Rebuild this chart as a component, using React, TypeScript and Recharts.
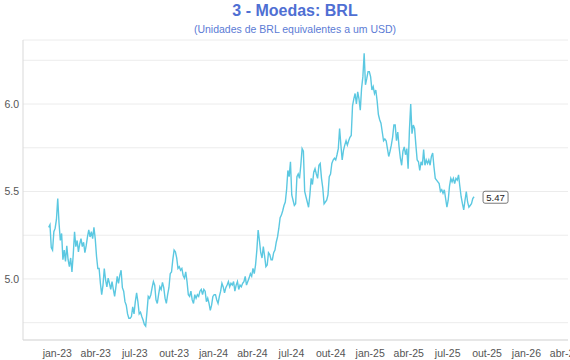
import { LineChart, Line, XAxis, YAxis, CartesianGrid, LabelList } from 'recharts';

const DIA = 86400000;

// série: BRL por USD, aprox. uma observação a cada 3 dias a partir de 12/12/2022
const inicioSerie = Date.UTC(2022, 11, 12);
const passoDias = 3.02;
const brl = [
  5.295, 5.31, 5.18, 5.165, 5.27, 5.29, 5.34, 5.46, 5.32, 5.22, 5.26, 5.11, 5.165, 5.10, 5.19, 5.11,
  5.07, 5.12, 5.04, 5.14, 5.27, 5.185, 5.22, 5.155, 5.20, 5.23, 5.185, 5.21, 5.15, 5.19, 5.24, 5.28,
  5.24, 5.27, 5.23, 5.295, 5.23, 5.13, 5.06, 5.06, 4.975, 4.91, 4.965, 5.06, 4.995, 4.955, 5.005, 4.975,
  4.94, 4.985, 4.94, 4.90, 4.955, 5.015, 4.975, 5.02, 5.05, 4.95, 4.93, 4.87, 4.85, 4.80, 4.775,
  4.775, 4.785, 4.84, 4.80, 4.87, 4.92, 4.87, 4.80, 4.81, 4.785, 4.765, 4.74, 4.73, 4.81, 4.90, 4.89,
  4.91, 4.95, 4.985, 4.965, 4.88, 4.86, 4.91, 4.955, 4.94, 4.98, 4.95, 4.89, 4.86, 4.91, 4.95, 5.03,
  5.04, 5.11, 5.165, 5.155, 5.12, 5.06, 5.07, 5.05, 5.06, 5.02, 5.005, 5.04, 4.985, 4.91, 4.90, 4.93,
  4.88, 4.86, 4.91, 4.89, 4.91, 4.90, 4.93, 4.94, 4.91, 4.94, 4.93, 4.87, 4.89, 4.86, 4.82, 4.85,
  4.90, 4.91,
  4.91, 4.88, 4.86, 4.90, 4.93, 4.975, 4.955, 4.92, 4.95, 4.965, 4.985, 4.955, 4.975, 4.965, 4.985, 4.93,
  4.965, 4.985, 4.94, 4.965, 4.955, 4.975, 4.985, 5.015, 4.965, 4.985, 5.005, 5.03, 5.015, 5.06, 5.03, 5.08,
  5.165, 5.28, 5.22, 5.15, 5.12, 5.185, 5.13, 5.07, 5.08, 5.15, 5.14, 5.11, 5.11, 5.15, 5.165, 5.21,
  5.24, 5.29, 5.35, 5.365, 5.39, 5.42, 5.44, 5.51, 5.62, 5.585, 5.67, 5.48, 5.45, 5.42, 5.43, 5.585, 5.60,
  5.575, 5.65, 5.745, 5.73, 5.50, 5.47, 5.44, 5.41, 5.48, 5.575, 5.54, 5.61, 5.63, 5.60, 5.575, 5.65,
  5.66, 5.575, 5.52, 5.43, 5.44, 5.45, 5.48, 5.585, 5.60, 5.66, 5.68, 5.69, 5.68, 5.71, 5.745, 5.86,
  5.765, 5.68, 5.735, 5.765, 5.79, 5.765, 5.79, 5.81, 5.82, 5.99, 6.03, 6.06, 6.00, 6.07, 6.03, 5.965,
  6.09, 6.155, 6.29, 6.11, 6.145, 6.185, 6.185, 6.155, 6.08, 6.10, 6.06, 6.08, 6.02, 5.94, 5.91, 5.89,
  5.84, 5.79,
  5.80, 5.79, 5.745, 5.70, 5.73, 5.765, 5.81, 5.88, 5.88, 5.79, 5.84, 5.755, 5.69, 5.65, 5.73, 5.755,
  5.71, 5.745, 5.63, 5.85, 6.00, 5.83, 5.88, 5.86, 5.765, 5.68, 5.67, 5.62, 5.67, 5.65, 5.74, 5.65,
  5.68, 5.66, 5.68, 5.65, 5.70, 5.72, 5.64, 5.575, 5.565, 5.555, 5.545, 5.50, 5.51, 5.49, 5.51, 5.46,
  5.41, 5.45, 5.53, 5.575, 5.555, 5.575, 5.545, 5.575, 5.565, 5.595, 5.53, 5.47, 5.43, 5.395, 5.45, 5.50,
  5.44, 5.41, 5.42, 5.43, 5.46, 5.47,
];

// marcas do eixo x (trimestres)
const mesesTick: [number, number][] = [
  [2023, 0], [2023, 3], [2023, 6], [2023, 9], [2024, 0], [2024, 3], [2024, 6],
  [2024, 9], [2025, 0], [2025, 3], [2025, 6], [2025, 9], [2026, 0], [2026, 3],
];
const rotulosX = [
  'jan-23', 'abr-23', 'jul-23', 'out-23', 'jan-24', 'abr-24', 'jul-24',
  'out-24', 'jan-25', 'abr-25', 'jul-25', 'out-25', 'jan-26', 'abr-26',
];
const ticksY = [4.75, 5.0, 5.25, 5.5, 5.75, 6.0, 6.25];

const dados = brl.map((v, i) => ({ t: inicioSerie + i * passoDias * DIA, v }));
const ticksX = mesesTick.map(([a, m]) => Date.UTC(a, m, 1));
const rotuloPorTick = new Map(ticksX.map((t, i) => [t, rotulosX[i]]));

const fonte = '"Liberation Sans", Arial, Helvetica, sans-serif';

const UltimoValor = (props: any) => {
  const { x, y, value, index } = props;
  if (index !== brl.length - 1) return null;
  return (
    <g>
      <rect x={x + 9} y={y - 5.5} width={25} height={12} rx={2} fill="#fff" stroke="#555" strokeWidth={0.8} />
      <text x={x + 21.5} y={y + 4} textAnchor="middle" fontSize={9.5} fill="#222" fontFamily={fonte}>
        {Number(value).toFixed(2)}
      </text>
    </g>
  );
};

export default function App() {
  return (
    <div style={{ position: 'absolute', left: 0, top: 0, width: 570, height: 360, background: '#fff', fontFamily: fonte }}>
      <div style={{ position: 'absolute', left: 0, width: 590, top: 2, textAlign: 'center', fontSize: 16, fontWeight: 'bold', color: '#4f6fd3' }}>
        3 - Moedas: BRL
      </div>
      <div style={{ position: 'absolute', left: 0, width: 590, top: 23, textAlign: 'center', fontSize: 10.5, color: '#5b7bd5' }}>
        (Unidades de BRL equivalentes a um USD)
      </div>
      <LineChart width={570} height={360} data={dados} margin={{ top: 40, right: 2, left: 0, bottom: 0 }}>
        <CartesianGrid vertical={false} stroke="#ececec" />
        <XAxis
          dataKey="t"
          type="number"
          scale="time"
          domain={[Date.UTC(2022, 9, 13), Date.UTC(2026, 3, 8)]}
          ticks={ticksX}
          tickFormatter={(t: number) => rotuloPorTick.get(t) ?? ''}
          height={20}
          interval={0}
          tickLine={false}
          axisLine={{ stroke: '#d9d9d9' }}
          tickMargin={4}
          tick={{ fontSize: 10.5, fill: '#555', fontFamily: fonte }}
          allowDataOverflow
        />
        <YAxis
          type="number"
          width={23}
          domain={[4.651, 6.366]}
          ticks={ticksY}
          tickFormatter={(v: number) => (Math.abs(v * 2 - Math.round(v * 2)) < 1e-9 ? v.toFixed(1) : '')}
          tickLine={false}
          tickSize={0}
          tickMargin={4}
          axisLine={{ stroke: '#d9d9d9' }}
          tick={{ fontSize: 10.5, fill: '#555', fontFamily: fonte }}
          allowDataOverflow
        />
        <Line
          type="linear"
          dataKey="v"
          stroke="#5bc8e1"
          strokeWidth={1.4}
          dot={false}
          isAnimationActive={false}
        >
          <LabelList dataKey="v" content={UltimoValor} />
        </Line>
      </LineChart>
    </div>
  );
}
